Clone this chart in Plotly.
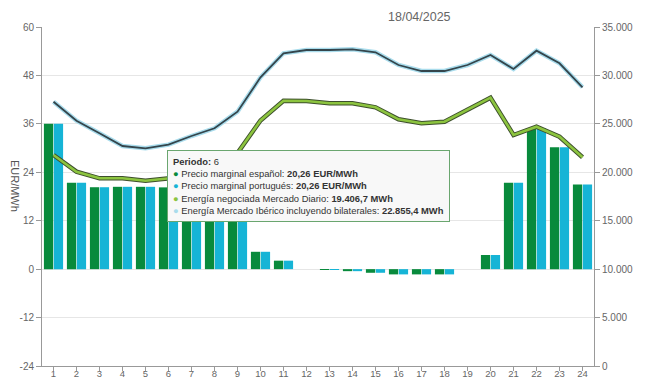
import plotly.graph_objects as go

hours = list(range(1, 25))
precio_es = [36.0, 21.4, 20.3, 20.4, 20.4, 20.26, 20.0, 19.5, 18.5, 4.3, 2.1, 0.0,
             -0.1, -0.5, -0.9, -1.3, -1.3, -1.3, 0.0, 3.5, 21.4, 34.9, 30.2, 21.0]
precio_pt = [36.0, 21.4, 20.3, 20.4, 20.4, 20.26, 20.0, 19.5, 18.5, 4.3, 2.1, 0.0,
             -0.1, -0.5, -0.9, -1.3, -1.3, -1.3, 0.0, 3.5, 21.4, 34.9, 30.2, 21.0]
energia_diario = [21785, 20061, 19380, 19380, 19132, 19406.7, 19617, 20546, 21991, 25347,
                  27391, 27360, 27122, 27122, 26710, 25471, 25058, 25223, 26431, 27701,
                  23850, 24707, 23674, 21547]
energia_iberico = [27288, 25326, 24025, 22714, 22476, 22855.4, 23746, 24541, 26256, 29807,
                   32285, 32625, 32625, 32698, 32388, 31077, 30457, 30457, 31077, 32109,
                   30664, 32553, 31252, 28774]

left_ticks = [-24, -12, 0, 12, 24, 36, 48, 60]
left_labels = ["-24", "-12", "0", "12", "24", "36", "48", "60"]
right_ticks = [0, 5000, 10000, 15000, 20000, 25000, 30000, 35000]
right_labels = ["0", "5.000", "10.000", "15.000", "20.000", "25.000", "30.000", "35.000"]

GREEN = "#088a3c"
CYAN = "#16b4d6"
LGREEN = "#8cc43f"
LBLUE = "#a9dcec"

fig = go.Figure()
fig.add_trace(go.Bar(x=hours, y=precio_es, marker_color=GREEN, marker_line_width=0,
                     name="Precio marginal español"))
fig.add_trace(go.Bar(x=hours, y=precio_pt, marker_color=CYAN, marker_line_width=0,
                     name="Precio marginal portugués"))
fig.add_trace(go.Scatter(x=hours, y=energia_iberico, yaxis="y2", mode="lines",
                         line=dict(color=LBLUE, width=4.5), showlegend=False))
fig.add_trace(go.Scatter(x=hours, y=energia_iberico, yaxis="y2", mode="lines",
                         line=dict(color="#34454c", width=1.8), showlegend=False))
fig.add_trace(go.Scatter(x=hours, y=energia_diario, yaxis="y2", mode="lines",
                         line=dict(color="#3d4f2c", width=4.5), showlegend=False))
fig.add_trace(go.Scatter(x=hours, y=energia_diario, yaxis="y2", mode="lines",
                         line=dict(color=LGREEN, width=2.6), showlegend=False))

tick_font = dict(family="Liberation Sans, Arial, sans-serif", size=10, color="#666666")

# The page body adds an 8px offset, so the figure is 642x372.
fig.update_layout(
    width=642, height=372,
    margin=dict(l=34, r=56, t=19, b=14, autoexpand=False),
    paper_bgcolor="white", plot_bgcolor="white",
    showlegend=False,
    barmode="group", bargap=0.14, bargroupgap=0.06,
    font=dict(family="Liberation Sans, Arial, sans-serif", color="#555555"),
    xaxis=dict(tickmode="array", tickvals=hours, ticktext=[str(h) for h in hours],
               range=[0.5, 24.5], tickson="boundaries", ticks="outside", ticklen=4,
               tickcolor="#999999", showline=True, linecolor="#999999", linewidth=1,
               showgrid=False, tickfont=dict(tick_font, size=9.5), automargin=False,
               ticklabelstandoff=-5),
    yaxis=dict(range=[-24, 60], tickmode="array", tickvals=left_ticks, ticktext=left_labels,
               ticks="outside", ticklen=5, tickcolor="#999999", showline=True,
               linecolor="#999999", gridcolor="#e6e6e6", zeroline=False,
               tickfont=tick_font, automargin=False),
    yaxis2=dict(range=[0, 35000], overlaying="y", side="right", tickmode="array",
                tickvals=right_ticks, ticktext=right_labels, ticks="outside", ticklen=5,
                tickcolor="#999999", showline=True, linecolor="#999999",
                showgrid=False, zeroline=False, tickfont=tick_font, automargin=False),
)

fig.add_annotation(text="18/04/2025", xref="paper", yref="paper", x=0.683, y=1.0,
                   yshift=10, showarrow=False, xanchor="center", yanchor="middle",
                   font=dict(size=12.5, color="#666666"))
fig.add_annotation(text="EUR/MWh", xref="paper", yref="paper", x=-0.05, y=0.53,
                   showarrow=False, textangle=90, xanchor="center", yanchor="middle",
                   font=dict(size=11, color="#555555"))

tip = ("<b>Periodo:</b> 6<br>"
       f"<span style='color:{GREEN}'>●</span> Precio marginal español: <b>20,26 EUR/MWh</b><br>"
       f"<span style='color:{CYAN}'>●</span> Precio marginal portugués: <b>20,26 EUR/MWh</b><br>"
       f"<span style='color:{LGREEN}'>●</span> Energía negociada Mercado Diario: <b>19.406,7 MWh</b><br>"
       f"<span style='color:{LBLUE}'>●</span> Energía Mercado Ibérico incluyendo bilaterales: <b>22.855,4 MWh</b>")
fig.add_annotation(text=tip, xref="paper", yref="paper", x=0.2264, y=0.637,
                   showarrow=False, xanchor="left", yanchor="top", align="left",
                   bgcolor="#f8f8f8", bordercolor="#6aa66f", borderwidth=1, borderpad=5,
                   font=dict(size=9.4, color="#333333"))

fig.write_html("out.html")
